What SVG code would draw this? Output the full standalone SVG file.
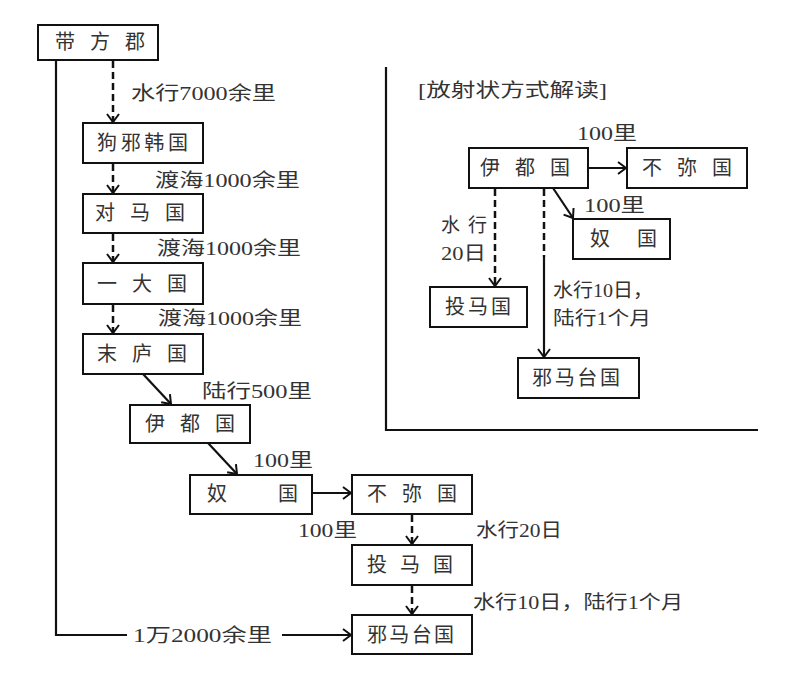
<svg xmlns="http://www.w3.org/2000/svg" width="800" height="685" viewBox="0 0 800 685">
<defs>
<marker id="ah" markerUnits="userSpaceOnUse" markerWidth="14" markerHeight="14" viewBox="-10 -7 12 14" refX="0" refY="0" orient="auto">
<path d="M-8,-6 L0,0 L-8,6" fill="none" stroke="#111" stroke-width="2"/>
</marker>
<style>
.box{fill:#fff;stroke:#111;stroke-width:2}
.n{font-family:"Liberation Serif","Noto Sans CJK SC",serif;font-size:20px;fill:#333}
.l{font-family:"Liberation Serif","Noto Sans CJK SC",serif;font-size:19px;fill:#333}
.c{fill:none;stroke:#111;stroke-width:2.2}
.d{fill:none;stroke:#111;stroke-width:2.5;stroke-dasharray:7 4}
</style>
</defs>
<rect width="800" height="685" fill="#fff"/>

<g id="connectors">
<line class="d" x1="113" y1="61" x2="113" y2="122" marker-end="url(#ah)"/>
<line class="d" x1="113" y1="164" x2="113" y2="193" marker-end="url(#ah)"/>
<line class="d" x1="113" y1="234" x2="113" y2="262" marker-end="url(#ah)"/>
<line class="d" x1="113" y1="305" x2="113" y2="333" marker-end="url(#ah)"/>
<line class="c" x1="143" y1="374" x2="171" y2="404" marker-end="url(#ah)"/>
<line class="c" x1="208" y1="443" x2="237" y2="474" marker-end="url(#ah)"/>
<line class="c" x1="312" y1="493" x2="351" y2="493" marker-end="url(#ah)"/>
<line class="d" x1="412" y1="515" x2="412" y2="544" marker-end="url(#ah)"/>
<line class="d" x1="412" y1="586" x2="412" y2="614" marker-end="url(#ah)"/>
<polyline class="c" points="56,60 56,635 127,635"/>
<line class="c" x1="282" y1="635" x2="351" y2="635" marker-end="url(#ah)"/>
<line class="c" x1="588" y1="168" x2="626" y2="168" marker-end="url(#ah)"/>
<line class="c" x1="553" y1="188" x2="573" y2="218" marker-end="url(#ah)"/>
<line class="d" x1="495" y1="189" x2="495" y2="286" marker-end="url(#ah)"/>
<line class="d" x1="544" y1="189" x2="544" y2="257"/>
<line class="c" x1="544" y1="257" x2="544" y2="357" marker-end="url(#ah)"/>
</g>

<g id="frame">
<polyline class="c" points="386,67 386,430 758,430"/>
</g>

<g id="n-daifang"><rect class="box" x="38" y="25" width="120" height="35"/><text class="n" x="55" y="49" letter-spacing="15">带方郡</text></g>
<g id="n-gouxiehan"><rect class="box" x="83" y="123" width="120" height="40"/><text class="n" x="97" y="150" textLength="91" lengthAdjust="spacing">狗邪韩国</text></g>
<g id="n-duima"><rect class="box" x="83" y="194" width="120" height="39"/><text class="n" x="95" y="220" letter-spacing="15">对马国</text></g>
<g id="n-yida"><rect class="box" x="83" y="263" width="120" height="41"/><text class="n" x="97" y="291" letter-spacing="15">一大国</text></g>
<g id="n-molu"><rect class="box" x="83" y="334" width="120" height="40"/><text class="n" x="97" y="361" letter-spacing="15">末庐国</text></g>
<g id="n-yidu"><rect class="box" x="130" y="405" width="120" height="38"/><text class="n" x="145" y="431" letter-spacing="15">伊都国</text></g>
<g id="n-nu"><rect class="box" x="190" y="475" width="122" height="39"/><text class="n" y="501"><tspan x="207">奴</tspan><tspan x="278">国</tspan></text></g>
<g id="n-bumi"><rect class="box" x="352" y="475" width="120" height="39"/><text class="n" x="367" y="501" letter-spacing="15">不弥国</text></g>
<g id="n-touma"><rect class="box" x="352" y="545" width="120" height="40"/><text class="n" x="367" y="572" letter-spacing="13">投马国</text></g>
<g id="n-yamatai"><rect class="box" x="352" y="615" width="120" height="39"/><text class="n" x="367" y="642" textLength="87" lengthAdjust="spacing">邪马台国</text></g>

<g id="labels-left">
<text class="l" x="131" y="100" textLength="145" lengthAdjust="spacingAndGlyphs">水行7000余里</text>
<text class="l" x="155" y="187" textLength="145" lengthAdjust="spacingAndGlyphs">渡海1000余里</text>
<text class="l" x="157" y="255" textLength="144" lengthAdjust="spacingAndGlyphs">渡海1000余里</text>
<text class="l" x="158" y="325" textLength="144" lengthAdjust="spacingAndGlyphs">渡海1000余里</text>
<text class="l" x="202" y="398" textLength="110" lengthAdjust="spacingAndGlyphs">陆行500里</text>
<text class="l" x="253" y="467" textLength="60" lengthAdjust="spacingAndGlyphs">100里</text>
<text class="l" x="298" y="537" textLength="59" lengthAdjust="spacingAndGlyphs">100里</text>
<text class="l" x="476" y="537" textLength="86" lengthAdjust="spacingAndGlyphs">水行20日</text>
<text class="l" x="473" y="609" textLength="210" lengthAdjust="spacingAndGlyphs">水行10日，陆行1个月</text>
<text class="l" x="133" y="642" textLength="139" lengthAdjust="spacingAndGlyphs">1万2000余里</text>
</g>

<g id="r-yidu"><rect class="box" x="469" y="148" width="119" height="40"/><text class="n" x="480" y="175" letter-spacing="15">伊都国</text></g>
<g id="r-bumi"><rect class="box" x="627" y="148" width="120" height="40"/><text class="n" x="642" y="175" letter-spacing="15">不弥国</text></g>
<g id="r-nu"><rect class="box" x="573" y="219" width="97" height="40"/><text class="n" y="246"><tspan x="590">奴</tspan><tspan x="637">国</tspan></text></g>
<g id="r-touma"><rect class="box" x="430" y="287" width="97" height="40"/><text class="n" x="445" y="314" textLength="66" lengthAdjust="spacing">投马国</text></g>
<g id="r-yamatai"><rect class="box" x="518" y="358" width="121" height="40"/><text class="n" x="532" y="385" textLength="88" lengthAdjust="spacing">邪马台国</text></g>

<g id="labels-right">
<text class="l" x="418" y="97" textLength="189" lengthAdjust="spacingAndGlyphs">[放射状方式解读]</text>
<text class="l" x="577" y="140" textLength="60" lengthAdjust="spacingAndGlyphs">100里</text>
<text class="l" x="584" y="212" textLength="61" lengthAdjust="spacingAndGlyphs">100里</text>
<text class="l" x="441" y="232" letter-spacing="8">水行</text>
<text class="l" x="441" y="260" textLength="45" lengthAdjust="spacingAndGlyphs">20日</text>
<text class="l" x="553" y="297" textLength="100" lengthAdjust="spacingAndGlyphs">水行10日，</text>
<text class="l" x="553" y="325" textLength="98" lengthAdjust="spacingAndGlyphs">陆行1个月</text>
</g>
</svg>
